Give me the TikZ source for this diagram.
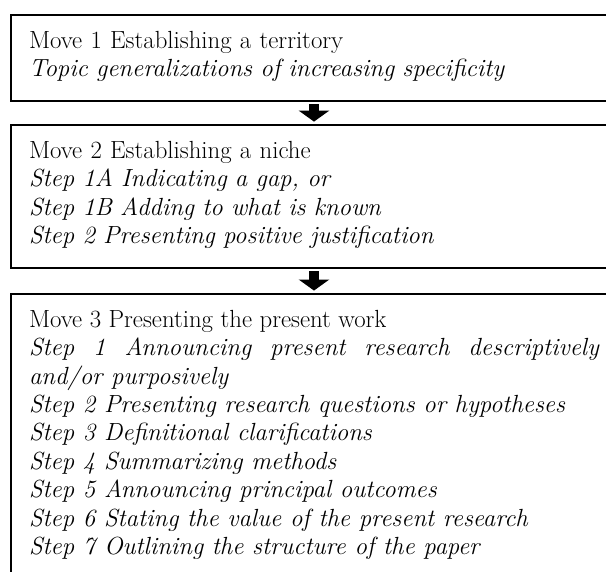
\documentclass[tikz,border=0pt]{standalone}
\usetikzlibrary{positioning,arrows.meta}
\tikzset{
  movebox/.style={draw, line width=2pt, inner xsep=18pt, inner ysep=16pt,
    text width=570pt, align=left, font=\fontsize{24.8}{28.4}\selectfont},
  movearrow/.style={line width=10pt, -{Triangle[width=30pt,length=11pt]},
    shorten <=2pt, shorten >=2.5pt}
}
\begin{document}
\begin{tikzpicture}[x=1pt,y=1pt,node distance=22pt]
  \path[fill=white] (0,0) rectangle (606,-572);
  \useasboundingbox (0,0) rectangle (606,-572);
  \node[movebox,anchor=north west] (m1) at (10,-14) {Move 1 Establishing a territory\\
    \textit{Topic generalizations of increasing specificity}\strut};
  \node[movebox,below=of m1] (m2) {Move 2 Establishing a niche\\
    \textit{Step 1A Indicating a gap, or}\\
    \textit{Step 1B Adding to what is known}\\
    \textit{Step 2 Presenting positive justification}\strut};
  \node[movebox,below=24pt of m2,align=justify] (m3) {Move 3 Presenting the present work\\
    \textit{Step 1 Announcing present research descriptively\linebreak and/or purposively}\\
    \textit{Step 2 Presenting research questions or hypotheses}\\
    \textit{Step 3 Definitional clarifications}\\
    \textit{Step 4 Summarizing methods}\\
    \textit{Step 5 Announcing principal outcomes}\\
    \textit{Step 6 Stating the value of the present research}\\
    \textit{Step 7 Outlining the structure of the paper}\strut};
  \draw[movearrow] (m1) -- (m2);
  \draw[movearrow] (m2) -- (m3);
\end{tikzpicture}
\end{document}
